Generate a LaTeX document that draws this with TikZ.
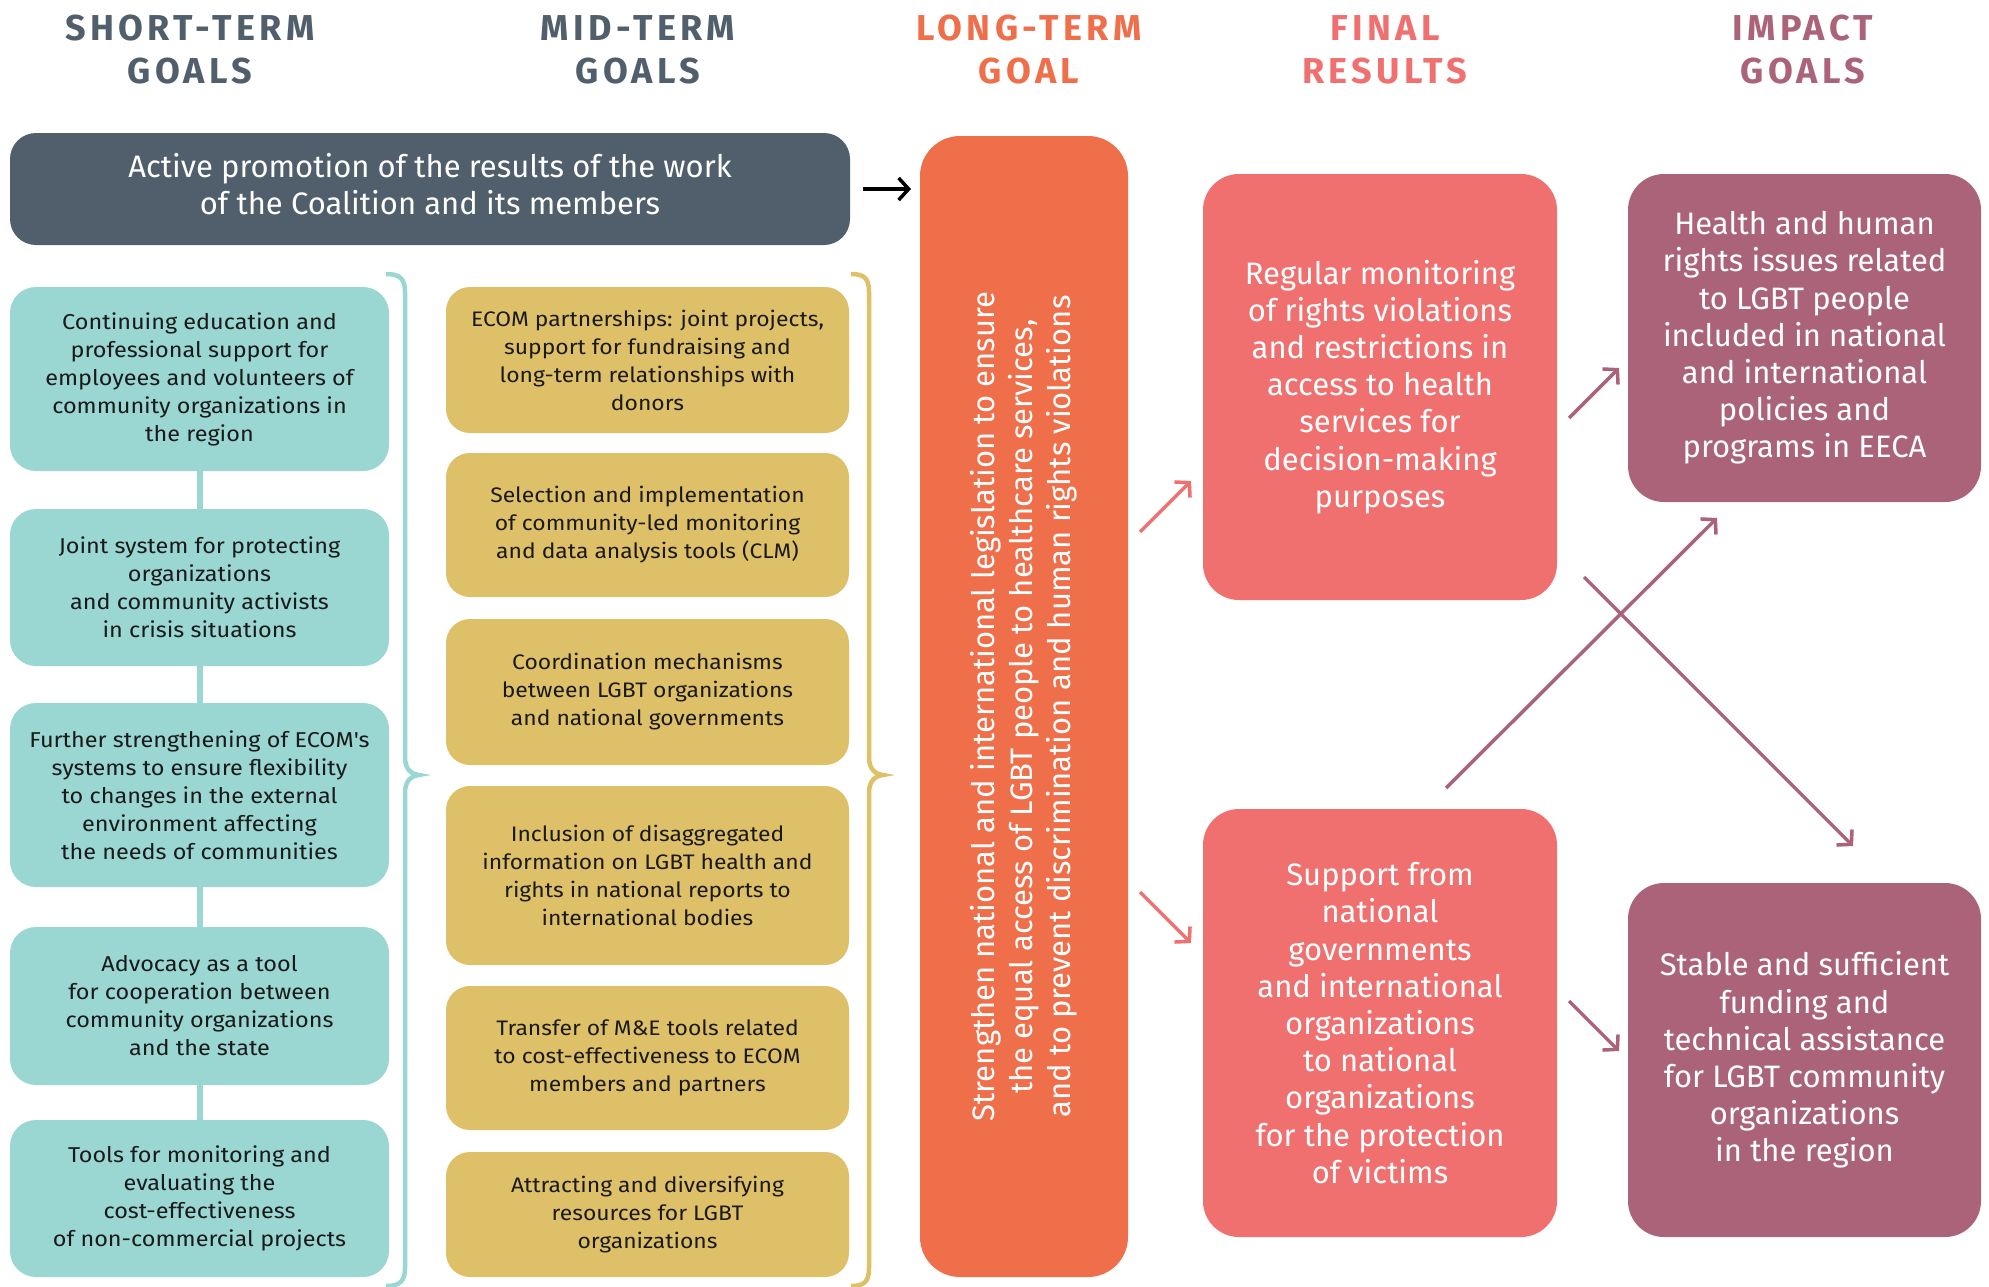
\documentclass[tikz,border=0pt]{standalone}
\usepackage{fontspec}
\setmainfont{Fira Sans}
\newfontfamily\condf{Fira Sans}
\newfontfamily\widef[FakeStretch=1.09]{Fira Sans}
\newfontfamily\headf[FakeStretch=1.0,LetterSpace=12]{Fira Sans}
\usetikzlibrary{arrows.meta}
\definecolor{cgray}{HTML}{505F6B}
\definecolor{corange}{HTML}{EF6F4B}
\definecolor{csalmon}{HTML}{F07070}
\definecolor{cpurple}{HTML}{AB6379}
\definecolor{cteal}{HTML}{9AD6D2}
\definecolor{cyellow}{HTML}{DEC068}
\definecolor{ctext}{HTML}{1A1A1A}
\tikzset{
  head/.style={align=center, inner sep=0pt, font=\headf\bfseries\fontsize{36}{43}\selectfont},
  box/.style={inner sep=0pt, align=center, anchor=center},
  tealbox/.style={box, fill=cteal, rounded corners=26pt, minimum width=379pt, minimum height=#1, text=ctext, font=\widef\fontsize{21.5}{28}\selectfont},
  yelbox/.style={box, fill=cyellow, rounded corners=24pt, minimum width=403pt, minimum height=#1, text=ctext, font=\widef\fontsize{21}{28}\selectfont},
  redbox/.style={box, fill=csalmon, rounded corners=36pt, minimum width=354pt, minimum height=#1, text=white, font=\condf\fontsize{31}{37.2}\selectfont},
  purbox/.style={box, fill=cpurple, rounded corners=36pt, minimum width=353pt, minimum height=#1, text=white, font=\condf\fontsize{31}{37.2}\selectfont},
  arr/.style={line width=3.5pt, -{Straight Barb[length=10pt,width=22pt]}},
  link/.style={draw=cteal, line width=6pt},
  bracestyle/.style={line width=4.5pt}
}
\begin{document}
\begin{tikzpicture}[x=1pt,y=-1pt]
\useasboundingbox (0,0) rectangle (1989,1286);
% headers
\node[head, text=cgray] (h1) at (190,49.5) {SHORT-TERM\\GOALS};
\node[head, text=cgray] (h2) at (638,49.5) {MID-TERM\\GOALS};
\node[head, text=corange] (h3) at (1029,49.5) {LONG-TERM\\GOAL};
\node[head, text=csalmon] (h4) at (1385,49.5) {FINAL\\RESULTS};
\node[head, text=cpurple] (h5) at (1803,49.5) {IMPACT\\GOALS};
% top gray box
\node[box, fill=cgray, rounded corners=26pt, minimum width=840pt, minimum height=112pt, text depth=10pt, text=white, font=\condf\fontsize{31}{36.8}\selectfont] (gray) at (430,189)
  {Active promotion of the results of the work\\of the Coalition and its members};
% long-term goal
\node[box, fill=corange, rounded corners=40pt, minimum width=208pt, minimum height=1141pt] (long) at (1024,706.5) {};
\node[rotate=90, align=center, inner sep=0pt, text=white, font=\condf\fontsize{31}{38}\selectfont] (longtxt) at (long.center)
  {Strengthen national and international legislation to ensure\\the equal access of LGBT people to healthcare services,\\and to prevent discrimination and human rights violations};
% short-term
\node[tealbox=184pt] (t1) at (199.5,379) {Continuing education and\\professional support for\\employees and volunteers of\\community organizations in\\the region};
\node[tealbox=157pt] (t2) at (199.5,587.5) {Joint system for protecting\\organizations\\and community activists\\in crisis situations};
\node[tealbox=184pt] (t3) at (199.5,795) {Further strengthening of ECOM's\\systems to ensure flexibility\\to changes in the external\\environment affecting\\the needs of communities};
\node[tealbox=158pt] (t4) at (199.5,1006) {Advocacy as a tool\\for cooperation between\\community organizations\\and the state};
\node[tealbox=157pt] (t5) at (199.5,1198.5) {Tools for monitoring and\\evaluating the\\cost-effectiveness\\of non-commercial projects};
\draw[link] (t1.south) -- (t2.north);
\draw[link] (t2.south) -- (t3.north);
\draw[link] (t3.south) -- (t4.north);
\draw[link] (t4.south) -- (t5.north);
% mid-term
\node[yelbox=146pt] (m1) at (647.5,360) {ECOM partnerships: joint projects,\\support for fundraising and\\long-term relationships with\\donors};
\node[yelbox=144pt] (m2) at (647.5,525) {Selection and implementation\\of community-led monitoring\\and data analysis tools (CLM)};
\node[yelbox=146pt] (m3) at (647.5,692) {Coordination mechanisms\\between LGBT organizations\\and national governments};
\node[yelbox=179pt] (m4) at (647.5,875.5) {Inclusion of disaggregated\\information on LGBT health and\\rights in national reports to\\international bodies};
\node[yelbox=144pt] (m5) at (647.5,1058) {Transfer of M\&E tools related\\to cost-effectiveness to ECOM\\members and partners};
\node[yelbox=125pt] (m6) at (647.5,1214.5) {Attracting and diversifying\\resources for LGBT\\organizations};
% braces
\draw[bracestyle, draw=cteal] (386,274) .. controls (400,274) and (405,279) .. (405,292) -- (405,757)
  .. controls (405,768) and (410,774) .. (419,775) .. controls (410,776) and (405,782) .. (405,793)
  -- (405,1268) .. controls (405,1281) and (400,1286) .. (386,1286);
\draw[bracestyle, draw=cyellow] (851,274) .. controls (865,274) and (869,279) .. (869,292) -- (869,757)
  .. controls (869,768) and (874,774) .. (883,775) .. controls (874,776) and (869,782) .. (869,793)
  -- (869,1268) .. controls (869,1281) and (865,1286) .. (851,1286);
% final results
\node[redbox=426pt] (r1) at (1380,387) {Regular monitoring\\of rights violations\\and restrictions in\\access to health\\services for\\decision-making\\purposes};
\node[redbox=428pt] (r2) at (1380,1023) {Support from\\national\\governments\\and international\\organizations\\to national\\organizations\\for the protection\\of victims};
% impact
\node[purbox=328pt] (p1) at (1804.5,338) {Health and human\\rights issues related\\to LGBT people\\included in national\\and international\\policies and\\programs in EECA};
\node[purbox=354pt] (p2) at (1804.5,1060) {Stable and sufficient\\funding and\\technical assistance\\for LGBT community\\organizations\\in the region};
% arrow end points
\coordinate (ga) at (863,189);
\coordinate (gb) at (911,189);
\coordinate (s1a) at (1140,532);
\coordinate (s1b) at (1191,481);
\coordinate (s2a) at (1140,892);
\coordinate (s2b) at (1191,943);
\coordinate (q1a) at (1569,418);
\coordinate (q1b) at (1619,368);
\coordinate (q2a) at (1569,1001);
\coordinate (q2b) at (1619,1051);
\coordinate (xa) at (1446,788);
\coordinate (xb) at (1717,518);
\coordinate (ya) at (1584,577);
\coordinate (yb) at (1853,846);
\draw[arr, draw=black] (ga) -- (gb);
\draw[arr, draw=csalmon] (s1a) -- (s1b);
\draw[arr, draw=csalmon] (s2a) -- (s2b);
\draw[arr, draw=cpurple] (q1a) -- (q1b);
\draw[arr, draw=cpurple] (q2a) -- (q2b);
\draw[arr, draw=cpurple] (xa) -- (xb);
\draw[arr, draw=cpurple] (ya) -- (yb);
\end{tikzpicture}
\end{document}
